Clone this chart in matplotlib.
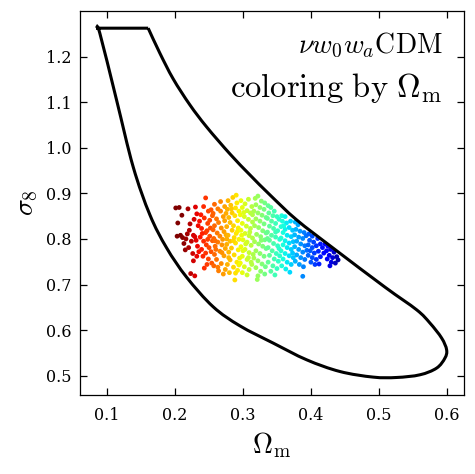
import numpy as np
import matplotlib
matplotlib.use("Agg")
import matplotlib.pyplot as plt
from matplotlib.path import Path
from matplotlib.patches import PathPatch

plt.rcParams['font.family'] = 'serif'
plt.rcParams['font.serif'] = ['DejaVu Serif']
plt.rcParams['mathtext.fontset'] = 'cm'

# contour outline (Omega_m, sigma_8): top edge is straight, the rest is smooth
contour_om = [0.1604, 0.1776, 0.1972, 0.2218, 0.2464, 0.2807, 0.3101, 0.3396, 0.3789,
              0.4328, 0.5090, 0.5557, 0.5753, 0.5925, 0.5998, 0.5973, 0.5851, 0.5605,
              0.5262, 0.4917, 0.4427, 0.3937, 0.3445, 0.2954, 0.2561, 0.2169, 0.1875,
              0.1629, 0.1383, 0.1138, 0.0892, 0.0844]
contour_s8 = [1.2623, 1.2075, 1.1511, 1.0941, 1.0458, 0.9866, 0.9406, 0.8967, 0.8419,
              0.7798, 0.6943, 0.6445, 0.6154, 0.5825, 0.5568, 0.5386, 0.5167, 0.5020,
              0.4961, 0.4969, 0.5092, 0.5349, 0.5715, 0.6094, 0.6511, 0.7162, 0.7805,
              0.8529, 0.9581, 1.1050, 1.2513, 1.2623]

# sample points, grouped by Omega_m band
band_a = [(0.201, 0.868), (0.206, 0.869), (0.204, 0.835), (0.208, 0.808), (0.213, 0.790),
          (0.215, 0.776), (0.211, 0.803), (0.210, 0.852), (0.203, 0.806)]
band_b = [(0.219, 0.866), (0.222, 0.833), (0.218, 0.811), (0.226, 0.768), (0.227, 0.752),
          (0.229, 0.719), (0.223, 0.724), (0.232, 0.855), (0.228, 0.843), (0.234, 0.829),
          (0.221, 0.819), (0.227, 0.808), (0.231, 0.797), (0.233, 0.784), (0.224, 0.795),
          (0.235, 0.772), (0.232, 0.762), (0.229, 0.805), (0.220, 0.781), (0.216, 0.800),
          (0.230, 0.870)]
band_c = [(0.238, 0.853), (0.242, 0.871), (0.245, 0.890), (0.243, 0.846), (0.248, 0.834),
          (0.239, 0.823), (0.245, 0.814), (0.251, 0.806), (0.237, 0.804), (0.242, 0.795),
          (0.246, 0.787), (0.250, 0.781), (0.239, 0.777), (0.245, 0.769), (0.249, 0.756),
          (0.254, 0.747), (0.247, 0.744), (0.241, 0.762), (0.252, 0.824), (0.249, 0.861),
          (0.255, 0.851), (0.251, 0.841), (0.243, 0.736), (0.255, 0.796), (0.253, 0.772),
          (0.236, 0.839), (0.248, 0.799), (0.253, 0.864), (0.240, 0.812), (0.247, 0.818)]
band_d = [(0.258, 0.876), (0.263, 0.866), (0.256, 0.856), (0.267, 0.861), (0.271, 0.849),
          (0.261, 0.844), (0.264, 0.836), (0.273, 0.840), (0.258, 0.829), (0.268, 0.824),
          (0.272, 0.816), (0.262, 0.813), (0.266, 0.806), (0.257, 0.801), (0.270, 0.799),
          (0.263, 0.793), (0.259, 0.784), (0.269, 0.787), (0.274, 0.779), (0.266, 0.773),
          (0.258, 0.766), (0.272, 0.763), (0.261, 0.755), (0.268, 0.746), (0.257, 0.741),
          (0.274, 0.733), (0.264, 0.730), (0.271, 0.723), (0.275, 0.856), (0.267, 0.882),
          (0.273, 0.871), (0.260, 0.777), (0.275, 0.809), (0.256, 0.820), (0.263, 0.738),
          (0.269, 0.770), (0.259, 0.796)]
band_e = [(0.278, 0.884), (0.285, 0.891), (0.290, 0.896), (0.282, 0.874), (0.289, 0.868),
          (0.277, 0.865), (0.294, 0.861), (0.284, 0.857), (0.279, 0.847), (0.288, 0.851),
          (0.292, 0.840), (0.281, 0.836), (0.286, 0.829), (0.276, 0.827), (0.293, 0.824),
          (0.284, 0.819), (0.290, 0.812), (0.278, 0.808), (0.287, 0.803), (0.294, 0.799),
          (0.281, 0.795), (0.276, 0.788), (0.289, 0.791), (0.283, 0.780), (0.293, 0.776),
          (0.279, 0.771), (0.287, 0.765), (0.295, 0.758), (0.281, 0.754), (0.291, 0.749),
          (0.277, 0.744), (0.286, 0.738), (0.292, 0.731), (0.280, 0.726), (0.288, 0.710),
          (0.294, 0.743), (0.283, 0.866), (0.291, 0.879), (0.286, 0.796), (0.279, 0.759),
          (0.292, 0.817), (0.276, 0.800), (0.289, 0.725)]
band_f = [(0.297, 0.884), (0.303, 0.877), (0.308, 0.887), (0.313, 0.871), (0.299, 0.869),
          (0.306, 0.862), (0.311, 0.857), (0.296, 0.853), (0.302, 0.849), (0.308, 0.843),
          (0.314, 0.837), (0.299, 0.834), (0.305, 0.828), (0.311, 0.823), (0.297, 0.819),
          (0.303, 0.812), (0.309, 0.807), (0.314, 0.802), (0.300, 0.798), (0.306, 0.793),
          (0.312, 0.786), (0.297, 0.783), (0.303, 0.777), (0.309, 0.770), (0.315, 0.766),
          (0.299, 0.762), (0.306, 0.755), (0.312, 0.749), (0.296, 0.747), (0.302, 0.739),
          (0.309, 0.733), (0.299, 0.726), (0.306, 0.721), (0.313, 0.744), (0.301, 0.858),
          (0.310, 0.815), (0.304, 0.789), (0.308, 0.759), (0.298, 0.808), (0.314, 0.853),
          (0.300, 0.774)]
band_g = [(0.318, 0.889), (0.322, 0.894), (0.327, 0.883), (0.332, 0.879), (0.319, 0.875),
          (0.325, 0.869), (0.331, 0.865), (0.316, 0.861), (0.322, 0.857), (0.328, 0.852),
          (0.334, 0.847), (0.319, 0.844), (0.325, 0.839), (0.331, 0.833), (0.317, 0.829),
          (0.323, 0.825), (0.329, 0.818), (0.334, 0.813), (0.320, 0.810), (0.326, 0.805),
          (0.332, 0.798), (0.317, 0.794), (0.323, 0.789), (0.329, 0.784), (0.334, 0.779),
          (0.319, 0.774), (0.325, 0.768), (0.331, 0.762), (0.316, 0.758), (0.322, 0.752),
          (0.328, 0.745), (0.333, 0.739), (0.319, 0.737), (0.326, 0.729), (0.322, 0.719),
          (0.332, 0.723), (0.321, 0.711), (0.327, 0.797)]
band_h = [(0.337, 0.873), (0.341, 0.869), (0.346, 0.861), (0.338, 0.857), (0.344, 0.851),
          (0.350, 0.849), (0.336, 0.845), (0.342, 0.839), (0.348, 0.834), (0.353, 0.843),
          (0.339, 0.828), (0.345, 0.823), (0.351, 0.818), (0.336, 0.815), (0.342, 0.808),
          (0.348, 0.804), (0.354, 0.799), (0.339, 0.797), (0.345, 0.790), (0.351, 0.785),
          (0.337, 0.781), (0.343, 0.774), (0.349, 0.768), (0.354, 0.763), (0.339, 0.764),
          (0.346, 0.756), (0.352, 0.751), (0.337, 0.749), (0.344, 0.741), (0.350, 0.735),
          (0.341, 0.729), (0.347, 0.721), (0.353, 0.779), (0.336, 0.801), (0.348, 0.815)]
band_i = [(0.357, 0.851), (0.362, 0.849), (0.358, 0.839), (0.364, 0.835), (0.370, 0.839),
          (0.356, 0.827), (0.362, 0.821), (0.368, 0.825), (0.373, 0.819), (0.359, 0.814),
          (0.365, 0.808), (0.371, 0.805), (0.356, 0.802), (0.362, 0.796), (0.368, 0.791),
          (0.374, 0.794), (0.359, 0.787), (0.365, 0.781), (0.371, 0.777), (0.356, 0.774),
          (0.362, 0.768), (0.368, 0.763), (0.374, 0.759), (0.359, 0.756), (0.365, 0.749),
          (0.371, 0.744), (0.357, 0.741), (0.363, 0.734), (0.369, 0.727), (0.373, 0.769),
          (0.360, 0.829)]
band_j = [(0.377, 0.837), (0.381, 0.831), (0.378, 0.821), (0.384, 0.817), (0.390, 0.814),
          (0.376, 0.809), (0.382, 0.804), (0.388, 0.801), (0.393, 0.807), (0.379, 0.795),
          (0.385, 0.789), (0.391, 0.785), (0.376, 0.783), (0.382, 0.777), (0.388, 0.771),
          (0.394, 0.775), (0.379, 0.765), (0.385, 0.759), (0.391, 0.755), (0.377, 0.751),
          (0.383, 0.744), (0.389, 0.739), (0.388, 0.718)]
band_k = [(0.397, 0.811), (0.402, 0.806), (0.398, 0.797), (0.404, 0.793), (0.410, 0.801),
          (0.396, 0.787), (0.402, 0.781), (0.408, 0.785), (0.414, 0.789), (0.399, 0.774),
          (0.405, 0.769), (0.411, 0.773), (0.417, 0.781), (0.396, 0.764), (0.402, 0.759),
          (0.408, 0.755), (0.414, 0.761), (0.400, 0.749), (0.406, 0.744), (0.419, 0.769),
          (0.412, 0.745)]
band_l = [(0.421, 0.789), (0.425, 0.784), (0.423, 0.774), (0.429, 0.777), (0.434, 0.771),
          (0.427, 0.764), (0.432, 0.759), (0.438, 0.761), (0.424, 0.756), (0.430, 0.749),
          (0.436, 0.747), (0.440, 0.754), (0.428, 0.741)]

bands = [band_a, band_b, band_c, band_d, band_e, band_f,
         band_g, band_h, band_i, band_j, band_k, band_l]
pts = np.array([p for b in bands for p in b])
om, s8 = pts[:, 0], pts[:, 1]

fig = plt.figure(figsize=(4.75, 4.74), dpi=100)
ax = fig.add_axes([0.1684, 0.1667, 0.8086, 0.8101])

ax.scatter(om, s8, c=om, cmap='jet_r', vmin=0.21, vmax=0.45, s=12, lw=0, zorder=2)

# smooth outline: Catmull-Rom through the read-off vertices, drawn as cubic Beziers
P = np.column_stack([contour_om, contour_s8])
ext = np.vstack([P[0], P, P[-1]])
verts = [tuple(P[0])]
codes = [Path.MOVETO]
for i in range(1, len(ext) - 2):
    p0, p1, p2, p3 = ext[i - 1], ext[i], ext[i + 1], ext[i + 2]
    verts += [tuple(p1 + (p2 - p0) / 6), tuple(p2 - (p3 - p1) / 6), tuple(p2)]
    codes += [Path.CURVE4] * 3
verts.append(tuple(P[0]))
codes.append(Path.LINETO)
ax.add_patch(PathPatch(Path(verts, codes), fill=False, edgecolor='black',
                       lw=2.2, joinstyle='miter', zorder=3))

ax.set_xlim(0.06, 0.6255)
ax.set_ylim(0.4577, 1.300)
ax.set_xticks([0.1, 0.2, 0.3, 0.4, 0.5, 0.6])
ax.set_yticks([0.5, 0.6, 0.7, 0.8, 0.9, 1.0, 1.1, 1.2])
ax.tick_params(direction='in', top=True, right=True, length=5, width=0.9, labelsize=11.5)
ax.tick_params(axis='x', pad=9)
ax.tick_params(axis='y', pad=6)
for sp in ax.spines.values():
    sp.set_linewidth(0.9)

ax.set_xlabel(r'$\Omega_\mathrm{m}$', fontsize=20, labelpad=4)
ax.set_ylabel(r'$\sigma_8$', fontsize=20, labelpad=4)

ax.text(0.945, 0.91, r'$\nu w_0 w_a\mathrm{CDM}$', transform=ax.transAxes,
        ha='right', va='center', fontsize=20)
ax.text(0.945, 0.80, r'$\mathrm{coloring\ by}\ \Omega_\mathrm{m}$', transform=ax.transAxes,
        ha='right', va='center', fontsize=23.5)

fig.savefig('out.png', dpi=100)
